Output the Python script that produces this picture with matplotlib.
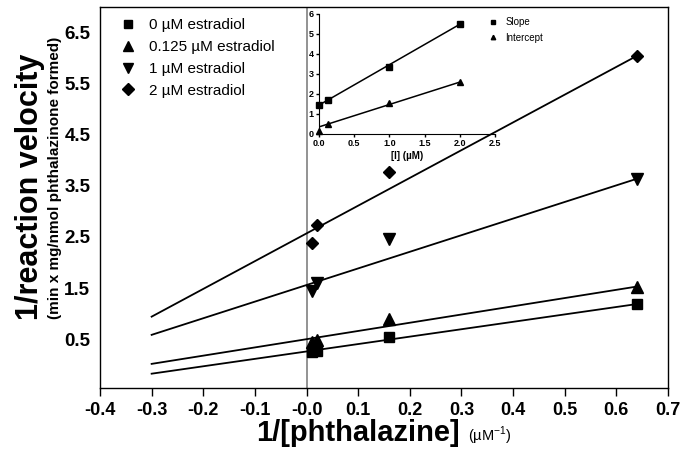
import numpy as np
import matplotlib
matplotlib.use("Agg")
import matplotlib.pyplot as plt

plt.rcParams['font.family'] = ['Liberation Sans', 'DejaVu Sans']
plt.rcParams['mathtext.fontset'] = 'custom'
plt.rcParams['mathtext.rm'] = 'Liberation Sans'

# Dados do gráfico principal (Lineweaver-Burk)
inv_phthalazine = [0.01, 0.02, 0.16, 0.64]
rotulos = ['0 µM estradiol', '0.125 µM estradiol', '1 µM estradiol', '2 µM estradiol']
marcadores = ['s', '^', 'v', 'D']
tamanhos = [7, 8, 8, 6.5]
v_0 = [0.24, 0.27, 0.55, 1.19]
v_0125 = [0.45, 0.48, 0.89, 1.53]
v_1 = [1.45, 1.60, 2.47, 3.64]
v_2 = [2.38, 2.73, 3.77, 6.04]
series = [v_0, v_0125, v_1, v_2]

# Retas ajustadas (inclinação, intercepto)
inclinacoes = [1.45, 1.61, 3.25, 5.43]
interceptos = [0.26, 0.50, 1.56, 2.57]
x_reta = [-0.3, 0.64]

xticks = [-0.4, -0.3, -0.2, -0.1, 0.0, 0.1, 0.2, 0.3, 0.4, 0.5, 0.6, 0.7]
xtick_labels = ['-0.4', '-0.3', '-0.2', '-0.1', '-0.0', '0.1', '0.2', '0.3', '0.4', '0.5', '0.6', '0.7']
yticks = [0.5, 1.5, 2.5, 3.5, 4.5, 5.5, 6.5]

# Dados do gráfico inserido (replot)
conc_I = [0.0, 0.125, 1.0, 2.0]
slope_vals = [1.45, 1.67, 3.33, 5.5]
intercept_vals = [0.15, 0.47, 1.53, 2.58]
slope_fit = (2.02, 1.42)
intercept_fit = (1.12, 0.33)

fig = plt.figure(figsize=(6.85, 4.55), dpi=100)
ax = fig.add_axes([100/685, 1 - 388/455, 568/685, 381/455])

ax.axvline(0, color='#808080', lw=1.2, zorder=1)

for ys, m, ms, lab, a, b in zip(series, marcadores, tamanhos, rotulos, inclinacoes, interceptos):
    xr = np.array(x_reta)
    ax.plot(xr, a * xr + b, color='black', lw=1.3, zorder=2)
    ax.plot(inv_phthalazine, ys, linestyle='none', marker=m, ms=ms, color='black', label=lab, zorder=3)

ax.set_xlim(-0.4, 0.7)
ax.set_ylim(-0.455, 7.0)
ax.set_xticks(xticks)
ax.set_xticklabels(xtick_labels)
ax.set_yticks(yticks)
ax.tick_params(axis='x', direction='out', length=6, width=1, labelsize=13, pad=4)
ax.tick_params(axis='y', direction='out', length=0, labelsize=13.5, pad=7)
for t in ax.get_xticklabels() + ax.get_yticklabels():
    t.set_fontweight('bold')
for s in ax.spines.values():
    s.set_linewidth(1)

ax.legend(loc='upper left', bbox_to_anchor=(120/685, 1 - 18/455), bbox_transform=fig.transFigure,
          frameon=False, fontsize=11, handlelength=1.0, handletextpad=0.9,
          labelspacing=0.52, borderpad=0, borderaxespad=0, markerscale=0.9)

# rótulos dos eixos
fig.text(30/685, 0.59, '1/reaction velocity', rotation=90, ha='center', va='center',
         fontsize=22, fontweight='bold')
fig.text(55/685, 0.61, '(min x mg/nmol phthalazinone formed)', rotation=90, ha='center', va='center',
         fontsize=11, fontweight='bold')
fig.text(460/685, 1 - 441/455, '1/[phthalazine]', ha='right', va='baseline',
         fontsize=21, fontweight='bold')
fig.text(468/685, 1 - 441/455, r'(µM$^{-1}$)', ha='left', va='baseline', fontsize=10.5)

# gráfico inserido
ins = fig.add_axes([319/685, 1 - 133.5/455, 176/685, 120/455])
ins.patch.set_alpha(0)
xi = np.array([0.0, 2.0])
ins.plot(xi, slope_fit[0] * xi + slope_fit[1], color='black', lw=1.1)
ins.plot(xi, intercept_fit[0] * xi + intercept_fit[1], color='black', lw=1.1)
ins.plot(conc_I, slope_vals, 's', ms=4, color='black', label='Slope', clip_on=False)
ins.plot(conc_I, intercept_vals, '^', ms=4, color='black', label='Intercept', clip_on=False)
ins.set_xlim(0, 2.5)
ins.set_ylim(0, 6)
ins.set_xticks([0.0, 0.5, 1.0, 1.5, 2.0, 2.5])
ins.set_xticklabels(['0.0', '0.5', '1.0', '1.5', '2.0', '2.5'])
ins.set_yticks([0, 1, 2, 3, 4, 5, 6])
ins.spines['top'].set_visible(False)
ins.spines['right'].set_visible(False)
ins.tick_params(direction='out', length=2.5, width=1, labelsize=6.5, pad=1.5)
for t in ins.get_xticklabels() + ins.get_yticklabels():
    t.set_fontweight('bold')
ins.set_xlabel('[I] (µM)', fontsize=7, fontweight='bold', labelpad=2)
ins.legend(loc='upper left', bbox_to_anchor=(489/685, 1 - 17/455), bbox_transform=fig.transFigure,
           frameon=False, fontsize=7, handlelength=0.8, handletextpad=0.9,
           labelspacing=0.6, borderpad=0, borderaxespad=0, markerscale=0.8)

fig.savefig('out.png', dpi=100)
